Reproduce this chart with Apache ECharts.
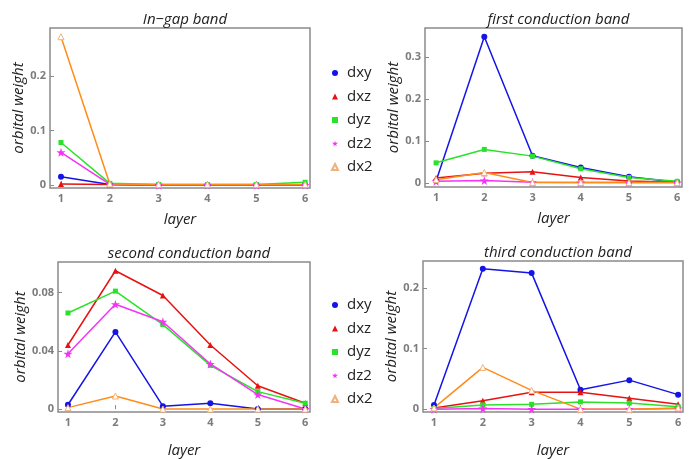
<!DOCTYPE html>
<html>
<head>
<meta charset="utf-8">
<script src="https://cdn.jsdelivr.net/npm/echarts@6/dist/echarts.min.js"></script>
<style>
    html, body { margin: 0; padding: 0; background: #fff; }
    #chart { width: 695px; height: 459px; }
</style>
</head>
<body>
<div id="chart"></div>
<script>
    // layers on the x axis, orbitals in legend order
    const layers = [1, 2, 3, 4, 5, 6];
    const orbitals = ['dxy', 'dxz', 'dyz', 'dz2', 'dx2'];

    // rows follow the orbitals order
    const inGapBand = [
        [0.015, 0.001, 0.000, 0.000, 0.000, 0.000],
        [0.002, 0.001, 0.000, 0.000, 0.000, 0.000],
        [0.078, 0.003, 0.001, 0.001, 0.001, 0.005],
        [0.060, 0.001, 0.000, 0.000, 0.000, 0.000],
        [0.272, 0.002, 0.001, 0.001, 0.001, 0.001]
    ];
    const firstBand = [
        [0.005, 0.348, 0.065, 0.037, 0.015, 0.002],
        [0.012, 0.023, 0.027, 0.013, 0.005, 0.002],
        [0.048, 0.080, 0.064, 0.034, 0.013, 0.004],
        [0.004, 0.006, 0.002, 0.001, 0.001, 0.001],
        [0.008, 0.025, 0.001, 0.001, 0.001, 0.001]
    ];
    const secondBand = [
        [0.003, 0.053, 0.002, 0.004, 0.000, 0.000],
        [0.044, 0.095, 0.078, 0.044, 0.016, 0.004],
        [0.066, 0.081, 0.058, 0.030, 0.012, 0.004],
        [0.038, 0.072, 0.060, 0.031, 0.010, 0.000],
        [0.001, 0.009, 0.000, 0.000, 0.000, 0.000]
    ];
    const thirdBand = [
        [0.007, 0.232, 0.225, 0.032, 0.048, 0.024],
        [0.002, 0.014, 0.028, 0.028, 0.018, 0.008],
        [0.001, 0.007, 0.008, 0.012, 0.010, 0.004],
        [0.000, 0.001, 0.000, 0.000, 0.000, 0.001],
        [0.002, 0.069, 0.031, 0.000, 0.000, 0.002]
    ];

    const titles = ['In\u2212gap band', 'first conduction band', 'second conduction band', 'third conduction band'];
    const yTicks = [[0, 0.1, 0.2], [0, 0.1, 0.2, 0.3], [0, 0.04, 0.08], [0, 0.1, 0.2]];

    const panels = [inGapBand, firstBand, secondBand, thirdBand];

    // layout
    const grids = [
        {left: 50, top: 28, width: 260, height: 160},
        {left: 425, top: 28, width: 257, height: 159},
        {left: 58, top: 262, width: 252, height: 156},
        {left: 423, top: 261, width: 260, height: 160}
    ];
    const xRange = [[0.775, 6.1], [0.77, 6.1], [0.79, 6.1], [0.775, 6.1]];
    const yRange = [[-0.0055, 0.288], [-0.0095, 0.369], [-0.002, 0.101], [-0.0047, 0.245]];
    const yNameGap = [19, 21, 25, 22];
    const xNameGap = [24, 24, 31, 31];

    const starPath = 'path://M50,0 L61,35 L98,35 L68,57 L79,91 L50,70 L21,91 L32,57 L2,35 L39,35 Z';
    const styles = {
        dxy: {symbol: 'circle', size: 6, line: '#1414e6', item: {color: '#1414e6'}},
        dxz: {symbol: 'triangle', size: 6, line: '#e81212', item: {color: '#e81212'}},
        dyz: {symbol: 'rect', size: 5, line: '#2ae22a', item: {color: '#2ae22a'}},
        dz2: {symbol: starPath, size: 9, line: '#f533f5', item: {color: '#f533f5'}},
        dx2: {symbol: 'triangle', size: 6, line: '#ff8c1a', item: {color: '#fff', borderColor: '#efb27a', borderWidth: 1}}
    };

    const tickColor = '#7c7c7c';
    const frameColor = '#8a8a8a';

    let xAxes = [], yAxes = [], series = [], titleList = [];
    panels.forEach((panel, p) => {
        const g = grids[p];
        titleList.push({
            text: titles[p],
            left: g.left + g.width / 2,
            top: g.top - 21,
            textAlign: 'center',
            textStyle: {fontFamily: 'Open Sans', fontStyle: 'italic', fontWeight: 'normal', fontSize: 15, color: '#222'}
        });
        xAxes.push({
            gridIndex: p, type: 'value', min: xRange[p][0], max: xRange[p][1],
            axisLine: {show: false}, splitLine: {show: false},
            axisTick: {show: true, inside: true, length: 4, customValues: layers, lineStyle: {color: frameColor}},
            axisLabel: {customValues: layers, color: tickColor, fontWeight: 'bold', fontSize: 11, margin: 5, fontFamily: 'Open Sans'},
            name: 'layer', nameLocation: 'middle', nameGap: xNameGap[p],
            nameTextStyle: {fontFamily: 'Open Sans', fontStyle: 'italic', fontSize: 15, color: '#222'}
        });
        yAxes.push({
            gridIndex: p, type: 'value', min: yRange[p][0], max: yRange[p][1],
            axisLine: {show: false}, splitLine: {show: false},
            axisTick: {show: true, inside: true, length: 4, customValues: yTicks[p], lineStyle: {color: frameColor}},
            axisLabel: {customValues: yTicks[p], color: tickColor, fontWeight: 'bold', fontSize: 11, margin: 4, fontFamily: 'Open Sans'},
            name: 'orbital weight', nameLocation: 'middle', nameGap: yNameGap[p],
            nameTextStyle: {fontFamily: 'Open Sans', fontStyle: 'italic', fontSize: 15, color: '#222'}
        });
        orbitals.forEach((name, k) => {
            const s = styles[name];
            series.push({
                type: 'line', name: name, xAxisIndex: p, yAxisIndex: p,
                data: layers.map((l, j) => [l, panel[k][j]]),
                symbol: s.symbol, symbolSize: s.size, showSymbol: true,
                lineStyle: {color: s.line, width: 1.5},
                itemStyle: s.item,
                animation: false
            });
        });
    });

    const legendData = orbitals.map(name => ({name: name, icon: styles[name].symbol}));
    const legendBase = {
        orient: 'vertical', left: 326, itemWidth: 6, itemHeight: 6, itemGap: 7.5,
        data: legendData, selectedMode: false,
        textStyle: {fontFamily: 'Open Sans', fontSize: 15, color: '#222', lineHeight: 16, padding: [0, 0, 0, 4]}
    };

    let myChart = echarts.init(document.getElementById('chart'));
    myChart.setOption({
        animation: false,
        title: titleList,
        legend: [
            Object.assign({top: 60}, legendBase),
            Object.assign({top: 292}, legendBase)
        ],
        grid: grids.map(g => Object.assign({show: true, borderColor: frameColor, borderWidth: 1.5, backgroundColor: 'transparent'}, g)),
        xAxis: xAxes,
        yAxis: yAxes,
        series: series
    });
</script>
</body>
</html>
